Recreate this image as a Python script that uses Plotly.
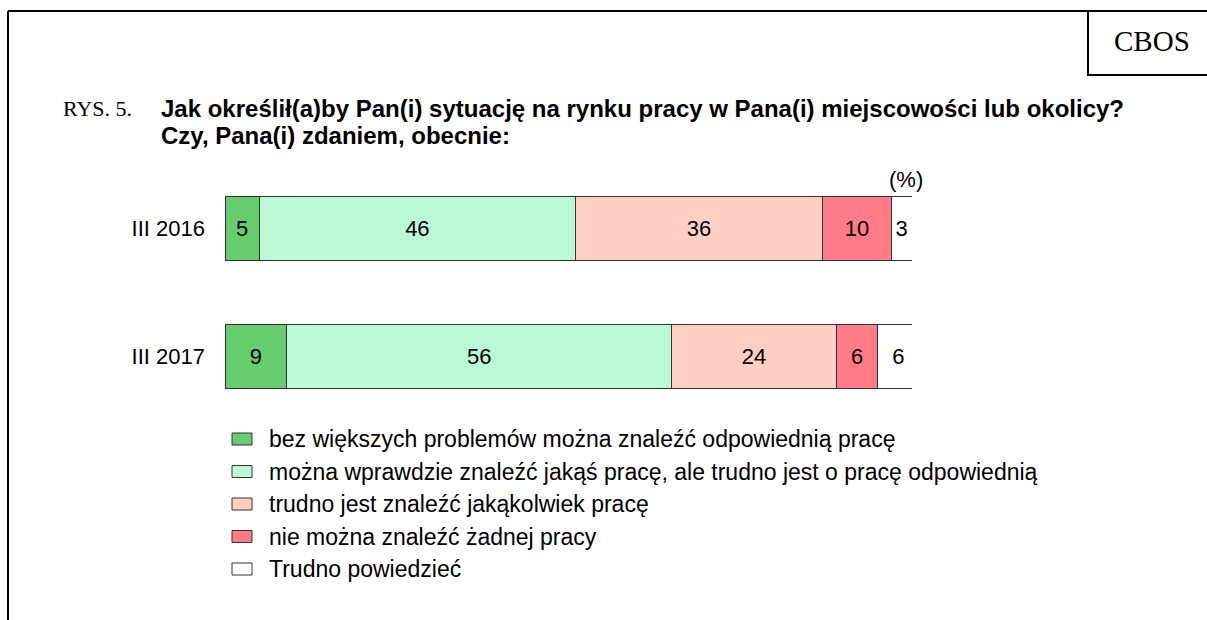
import plotly.graph_objects as go

# ---- data ----
periods = ["III 2016", "III 2017"]
series_names = [
    "bez większych problemów można znaleźć odpowiednią pracę",
    "można wprawdzie znaleźć jakąś pracę, ale trudno jest o pracę odpowiednią",
    "trudno jest znaleźć jakąkolwiek pracę",
    "nie można znaleźć żadnej pracy",
    "Trudno powiedzieć",
]
val_bez_problemow = [5, 9]
val_jakas_praca = [46, 56]
val_trudno_jakakolwiek = [36, 24]
val_zadnej = [10, 6]
val_trudno_powiedziec = [3, 6]
series_values = [val_bez_problemow, val_jakas_praca, val_trudno_jakakolwiek,
                 val_zadnej, val_trudno_powiedziec]
colors = ["#66CC6E", "#BBF9D6", "#FFCFC4", "#FF7B87", "#FFFFFF"]

W, H = 1207, 620
def px(x):
    return x / W
def py(y):
    return 1 - y / H

SANS = "Liberation Sans, Arial, sans-serif"
SERIF = "Liberation Serif, Times New Roman, serif"

fig = go.Figure()
for name, vals, col in zip(series_names, series_values, colors):
    fig.add_trace(go.Bar(
        y=periods, x=vals, name=name, orientation="h",
        marker=dict(color=col, line=dict(color="#333333", width=1)),
        text=vals, texttemplate="%{text}", textposition="inside",
        insidetextanchor="middle", textangle=0,
        textfont=dict(family=SANS, size=22, color="black"),
        width=0.5, hoverinfo="skip", showlegend=False,
    ))

fig.update_layout(
    width=W, height=H,
    margin=dict(l=0, r=0, t=0, b=0),
    paper_bgcolor="white", plot_bgcolor="white",
    barmode="stack",
    showlegend=False,
    uniformtext=dict(minsize=22, mode="show"),
    xaxis=dict(domain=[px(225), px(912)], range=[0, 100], visible=False, fixedrange=True),
    yaxis=dict(domain=[py(420.5), py(164.5)], range=[1.5, -0.5],
               categoryorder="array", categoryarray=periods,
               showgrid=False, showline=False, zeroline=False, ticks="",
               ticklabelstandoff=19, fixedrange=True,
               tickfont=dict(family=SANS, size=22, color="black")),
    font=dict(family=SANS, color="black"),
)

# legend drawn as layout decorations (one row per series)
leg_y0, leg_dy = 439, 32.5
for i, (name, col) in enumerate(zip(series_names, colors)):
    yc = leg_y0 + i * leg_dy
    fig.add_shape(type="rect", xref="paper", yref="paper",
                  x0=px(232), x1=px(252), y0=py(yc + 6), y1=py(yc - 6),
                  fillcolor=col, line=dict(color="#333333", width=1))
    fig.add_annotation(xref="paper", yref="paper", x=px(267), y=py(yc),
                       xanchor="left", yanchor="middle", text=name, showarrow=False,
                       font=dict(family=SANS, size=23, color="black"))

# frame and CBOS box
fig.add_shape(type="line", xref="paper", yref="paper", x0=px(8), x1=1, y0=py(11), y1=py(11),
              line=dict(color="black", width=2))
fig.add_shape(type="line", xref="paper", yref="paper", x0=px(8), x1=px(8), y0=py(11), y1=0,
              line=dict(color="black", width=2))
fig.add_shape(type="rect", xref="paper", yref="paper", x0=px(1088), x1=1.01, y0=py(75), y1=py(11),
              line=dict(color="black", width=2))
fig.add_annotation(xref="paper", yref="paper", x=px(1152), y=py(41), text="CBOS",
                   xanchor="center", yanchor="middle",
                   showarrow=False, font=dict(family=SERIF, size=29, color="black"))

# titles
fig.add_annotation(xref="paper", yref="paper", x=px(61), y=py(109), xanchor="left",
                   yanchor="middle", text="RYS. 5.", showarrow=False,
                   font=dict(family=SERIF, size=22, color="black"))
fig.add_annotation(xref="paper", yref="paper", x=px(159), y=py(109), xanchor="left",
                   yanchor="middle",
                   text="<b>Jak określił(a)by Pan(i) sytuację na rynku pracy w Pana(i) miejscowości lub okolicy?</b>",
                   showarrow=False, font=dict(family=SANS, size=24, color="black"))
fig.add_annotation(xref="paper", yref="paper", x=px(159), y=py(135), xanchor="left",
                   yanchor="middle",
                   text="<b>Czy, Pana(i) zdaniem, obecnie:</b>",
                   showarrow=False, font=dict(family=SANS, size=24, color="black"))
fig.add_annotation(xref="paper", yref="paper", x=px(906), y=py(179),
                   xanchor="center", yanchor="middle",
                   text="(%)", showarrow=False,
                   font=dict(family=SANS, size=22, color="black"))

fig.write_html("out.html", config={"displayModeBar": False},
               post_script="document.body.style.margin='0';")
